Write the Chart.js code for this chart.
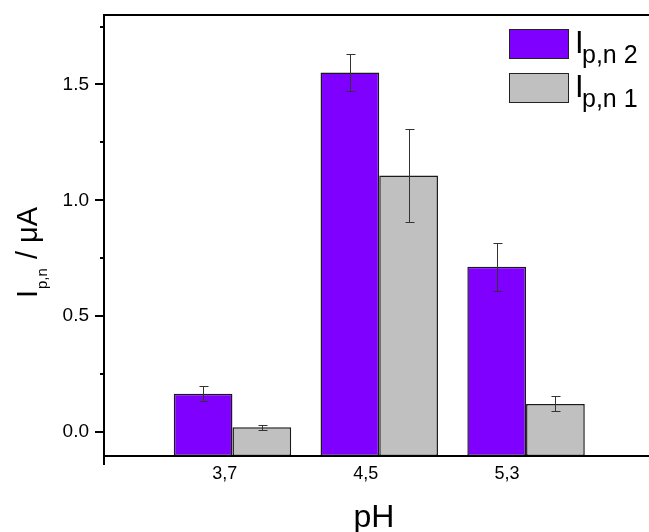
<!DOCTYPE html>
<html>
<head>
<meta charset="utf-8">
<script src="https://cdn.jsdelivr.net/npm/chart.js@4.4.1/dist/chart.umd.min.js"></script>
<style>
  html, body { margin: 0; padding: 0; background: #fff; }
  #wrap { width: 649px; height: 532px; position: relative; }
</style>
</head>
<body>
<div id="wrap"><canvas id="chart"></canvas></div>
<script>
// pH values and how they are printed under the axis
const phValues = [3.7, 4.5, 5.3];
const phLabels = ['3,7', '4,5', '5,3'];

// peak currents, uA
const ipn2 = [0.165, 1.552, 0.713];
const ipn1 = [0.020, 1.107, 0.121];

// +/- error
const ipn2Err = [0.032, 0.081, 0.104];
const ipn1Err = [0.010, 0.201, 0.032];

// y ticks (labels only on the halves)
const yTicks = [0, 0.25, 0.5, 0.75, 1.0, 1.25, 1.5, 1.75];
const yMin = -0.104, yMax = 1.8;

const FONT = '"Liberation Sans", Arial, sans-serif';
const PURPLE = '#8000ff';
const GREY = '#c0c0c0';

// error bars on top of each bar
const errorBars = {
  id: 'errorBars',
  afterDatasetsDraw(chart) {
    const ctx = chart.ctx;
    const ys = chart.scales.y;
    const errs = [ipn2Err, ipn1Err];
    ctx.save();
    ctx.strokeStyle = '#333';
    ctx.lineWidth = 1;
    chart.data.datasets.forEach((ds, di) => {
      chart.getDatasetMeta(di).data.forEach((bar, i) => {
        const v = ds.data[i].y, e = errs[di][i];
        const x = Math.round(bar.x) + 0.5;
        const top = Math.round(ys.getPixelForValue(v + e)) + 0.5;
        const bot = Math.round(ys.getPixelForValue(v - e)) + 0.5;
        ctx.beginPath();
        ctx.moveTo(x, top); ctx.lineTo(x, bot);
        ctx.moveTo(x - 4, top); ctx.lineTo(x + 5, top);
        ctx.moveTo(x - 4, bot); ctx.lineTo(x + 5, bot);
        ctx.stroke();
      });
    });
    ctx.restore();
  }
};

// frame, y tick marks, axis titles and legend
const decor = {
  id: 'decor',
  afterDraw(chart) {
    const ctx = chart.ctx;
    const a = chart.chartArea;
    const ys = chart.scales.y;
    ctx.save();
    ctx.strokeStyle = '#000';
    ctx.lineWidth = 2;
    ctx.beginPath();
    ctx.moveTo(a.left, a.top); ctx.lineTo(chart.width, a.top);
    ctx.moveTo(a.left, a.top - 1); ctx.lineTo(a.left, a.bottom + 9);
    ctx.moveTo(a.left, a.bottom); ctx.lineTo(chart.width, a.bottom);
    yTicks.forEach(v => {
      const py = Math.round(ys.getPixelForValue(v));
      const len = Math.abs(v * 2 - Math.round(v * 2)) < 1e-9 ? 9 : 4;
      ctx.moveTo(a.left - len, py); ctx.lineTo(a.left, py);
    });
    ctx.stroke();

    ctx.fillStyle = '#000';
    ctx.textBaseline = 'alphabetic';

    // x title
    ctx.textAlign = 'center';
    ctx.font = '32px ' + FONT;
    ctx.fillText('pH', 374, 527);

    // y title, rotated, with subscript
    ctx.textAlign = 'left';
    ctx.save();
    ctx.translate(37, 298);
    ctx.rotate(-Math.PI / 2);
    ctx.font = '29px ' + FONT;
    ctx.fillText('I', 0, 0);
    ctx.font = '15px ' + FONT;
    ctx.fillText('p,n', 9, 10);
    ctx.font = '29px ' + FONT;
    ctx.fillText('/ \u03bcA', 39, 0);
    ctx.restore();

    // legend
    const rows = [
      { color: PURPLE, sub: 'p,n 2', y: 29 },
      { color: GREY, sub: 'p,n 1', y: 73 }
    ];
    rows.forEach(r => {
      ctx.fillStyle = r.color;
      ctx.fillRect(509.5, r.y + 0.5, 59, 29);
      ctx.strokeStyle = '#222';
      ctx.lineWidth = 1;
      ctx.strokeRect(509.5, r.y + 0.5, 59, 29);
      ctx.fillStyle = '#000';
      ctx.font = '31px ' + FONT;
      ctx.fillText('I', 575, r.y + 24);
      ctx.font = '25px ' + FONT;
      ctx.fillText(r.sub, 582, r.y + 34);
    });
    ctx.restore();
  }
};

new Chart(document.getElementById('chart'), {
  type: 'bar',
  data: {
    datasets: [
      {
        label: 'Ip,n 2',
        data: phValues.map((x, i) => ({ x: x, y: ipn2[i] })),
        backgroundColor: PURPLE,
        borderColor: '#1a1a1a',
        borderWidth: 1.5,
        borderSkipped: false,
        base: yMin
      },
      {
        label: 'Ip,n 1',
        data: phValues.map((x, i) => ({ x: x, y: ipn1[i] })),
        backgroundColor: GREY,
        borderColor: '#1a1a1a',
        borderWidth: 1.5,
        borderSkipped: false,
        base: yMin
      }
    ]
  },
  options: {
    responsive: true,
    maintainAspectRatio: false,
    animation: false,
    categoryPercentage: 0.8,
    barPercentage: 1.0,
    layout: { padding: { top: 15, right: 0, left: 0, bottom: 0 } },
    plugins: {
      legend: { display: false },
      tooltip: { enabled: false }
    },
    scales: {
      x: {
        type: 'linear',
        display: false,
        offset: false,
        min: 3,
        max: 5.97,
        afterBuildTicks: s => { s.ticks = phValues.map(v => ({ value: v })); }
      },
      xl: {
        type: 'linear',
        position: 'bottom',
        offset: false,
        min: 3.015,
        max: 6.106,
        grid: { display: false, drawTicks: false },
        border: { display: false },
        afterBuildTicks: s => { s.ticks = phValues.map(v => ({ value: v })); },
        afterFit: s => { s.height = 76; s.paddingLeft = 0; s.paddingRight = 0; },
        ticks: {
          autoSkip: false,
          maxRotation: 0,
          padding: 7,
          color: '#000',
          font: { family: FONT, size: 18 },
          callback: v => phLabels[phValues.findIndex(p => Math.abs(p - v) < 1e-6)]
        }
      },
      y: {
        type: 'linear',
        min: yMin,
        max: yMax,
        grid: { display: false, drawTicks: false },
        border: { display: false },
        afterBuildTicks: s => { s.ticks = yTicks.map(v => ({ value: v })); },
        afterFit: s => { s.width = 104; s.paddingTop = 0; s.paddingBottom = 0; },
        ticks: {
          autoSkip: false,
          padding: 15,
          color: '#000',
          font: { family: FONT, size: 19 },
          callback: v => Math.abs(v * 2 - Math.round(v * 2)) < 1e-9 ? v.toFixed(1) : ''
        }
      }
    }
  },
  plugins: [errorBars, decor]
});
</script>
</body>
</html>
